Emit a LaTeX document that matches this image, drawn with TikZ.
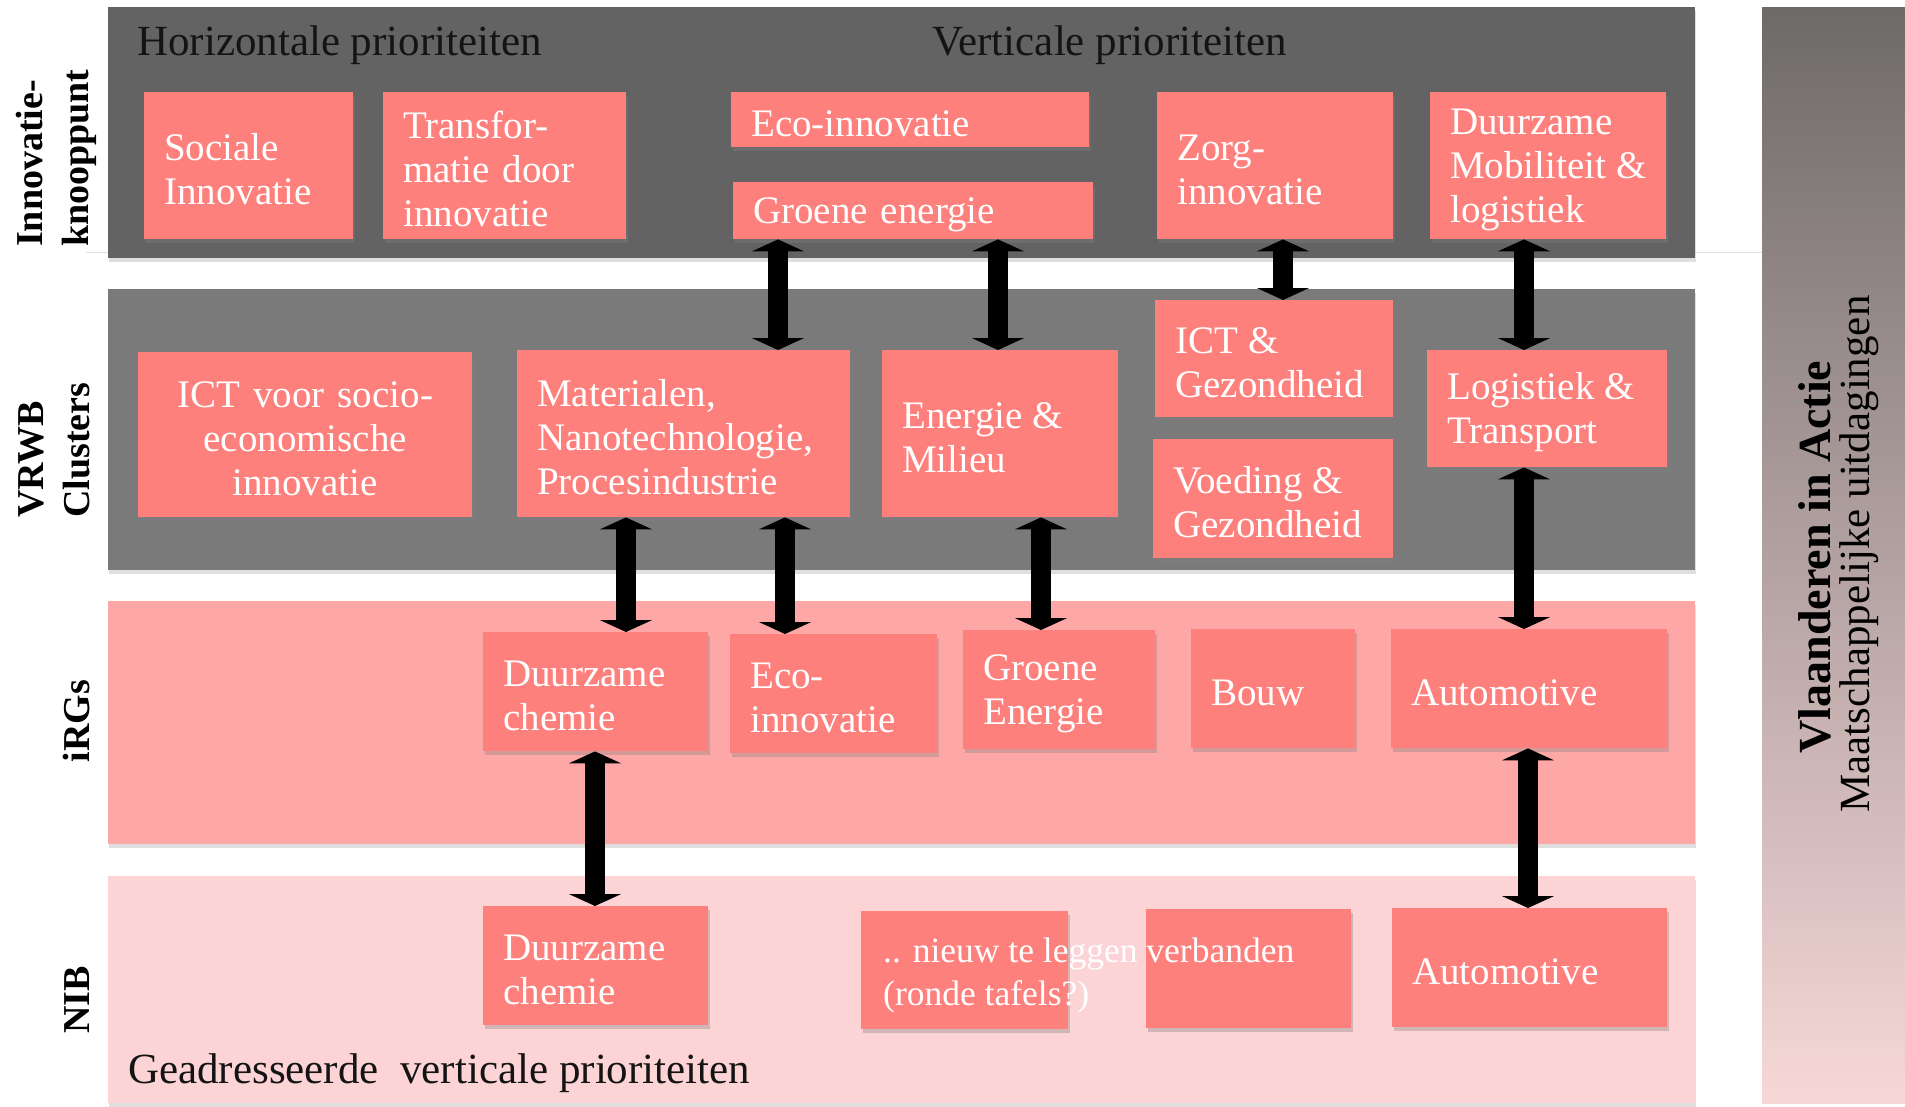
\documentclass[tikz,border=0pt]{standalone}
\usepackage{fontspec}
\setmainfont{Liberation Serif}
\usetikzlibrary{arrows.meta,shadows}

\definecolor{topgray}{RGB}{99,99,99}
\definecolor{clustgray}{RGB}{122,122,122}
\definecolor{irgpink}{RGB}{253,168,166}
\definecolor{nibpink}{RGB}{253,212,213}
\definecolor{boxred}{RGB}{253,128,125}
\definecolor{vlatop}{RGB}{110,106,106}
\definecolor{vlamid}{RGB}{182,158,158}
\definecolor{vlabot}{RGB}{247,216,216}

\newcommand\amp{~\kern-3pt\&}

\begin{document}
\begin{tikzpicture}[x=1pt,y=-1pt,
    band/.style={drop shadow={shadow xshift=1pt,shadow yshift=-4pt,opacity=.25}},
    prio box/.style 2 args={fill=boxred,text=white,anchor=north west,align=left,
       inner xsep=20pt,inner ysep=0pt,text width=#1,minimum height=#2,
       font=\fontsize{39}{44}\selectfont,execute at begin node={\rule{0pt}{34pt}\ignorespaces},
       drop shadow={shadow xshift=2pt,shadow yshift=-4pt,opacity=.35}},
    side label/.style={rotate=90,inner sep=0pt,font=\bfseries\fontsize{38}{44}\selectfont},
    head/.style={anchor=base west,inner sep=0pt,text=black!92,font=\fontsize{43}{48}\selectfont},
    link/.style={line width=20pt,{Triangle[width=52pt,length=12pt]}-{Triangle[width=52pt,length=12pt]}}]

  \useasboundingbox (0,0) rectangle (1905,1106);

  % lagen
  \draw[black!12,line width=1pt] (86,252) -- (1845,252);
  \fill[topgray,band] (108,7) rectangle (1695,258);
  \fill[clustgray,band] (108,289) rectangle (1695,570);
  \fill[irgpink,band] (108,601) rectangle (1695,844);
  \fill[nibpink,band] (108,876) rectangle (1695,1103);
  \fill[top color=vlatop,middle color=vlamid,bottom color=vlabot] (1762,7) rectangle (1905,1103);

  % labels links
  \node[side label,anchor=base west] (innoA) at (42,247) {Innovatie-};
  \node[side label,anchor=base west] (innoB) at (88,247) {knooppunt};
  \node[side label,anchor=base west] (vrwbA) at (43,518) {VRWB};
  \node[side label,anchor=base west] (vrwbB) at (89,518) {Clusters};
  \node[side label,anchor=base] (irgs) at (89,721) {iRGs};
  \node[side label,anchor=base] (nib) at (89,1000) {NIB};

  % rechts
  \node[rotate=90,anchor=base,inner sep=0pt,font=\bfseries\fontsize{46}{50}\selectfont] (vla) at (1830,557) {Vlaanderen in Actie};
  \node[rotate=90,anchor=base,inner sep=0pt,font=\fontsize{43}{48}\selectfont] (maat) at (1869,554) {Maatschappelijke uitdagingen};

  \node[head] (hor) at (137,55) {Horizontale prioriteiten};
  \node[head] (ver) at (932,55) {Verticale prioriteiten};
  \node[head] (geadr) at (128,1083) {Geadresseerde\ \ verticale prioriteiten};

  % innovatieknooppunt
  \node[prio box={169pt}{147pt}] (soc) at (144,92) {Sociale\\Innovatie};
  \node[prio box={203pt}{147pt}] (trans) at (383,92) {Transfor-\\matie~door\\innovatie};
  \node[prio box={318pt}{55pt}] (eco) at (731,92) {Eco-innovatie};
  \node[prio box={320pt}{57pt}] (groen) at (733,182) {Groene~energie};
  \node[prio box={196pt}{147pt}] (zorg) at (1157,92) {Zorg-\\innovatie};
  \node[prio box={196pt}{147pt}] (mob) at (1430,92) {Duurzame\\Mobiliteit\amp\\logistiek};

  % clusters
  \node[prio box={294pt}{165pt},align=center] (ictsoc) at (138,352) {ICT~voor~socio-\\economische\\innovatie};
  \node[prio box={293pt}{167pt}] (mat) at (517,350) {Materialen,\\Nanotechnologie,\\Procesindustrie};
  \node[prio box={196pt}{167pt}] (energ) at (882,350) {Energie\amp\\Milieu};
  \node[prio box={198pt}{117pt}] (ictgez) at (1155,300) {ICT\amp\\Gezondheid};
  \node[prio box={200pt}{119pt}] (voed) at (1153,439) {Voeding\amp\\Gezondheid};
  \node[prio box={200pt}{117pt}] (logi) at (1427,350) {Logistiek\amp\\Transport};

  % iRGs
  \node[prio box={185pt}{119pt}] (dchem) at (483,632) {Duurzame\\chemie};
  \node[prio box={167pt}{119pt}] (ecoirg) at (730,634) {Eco-\\innovatie};
  \node[prio box={152pt}{119pt}] (groenirg) at (963,630) {Groene\\Energie};
  \node[prio box={124pt}{119pt}] (bouw) at (1191,629) {Bouw};
  \node[prio box={236pt}{119pt}] (auto) at (1391,629) {Automotive};

  % NIB
  \node[prio box={185pt}{119pt}] (dchemnib) at (483,906) {Duurzame\\chemie};
  \node[prio box={167pt}{118pt}] (nieuw) at (861,911) {};
  \node[prio box={165pt}{119pt}] (leeg) at (1146,909) {};
  \node[prio box={235pt}{119pt}] (autonib) at (1392,908) {Automotive};
  \node[anchor=base west,inner sep=0pt,align=left,text=white,
        font=\fontsize{35.5}{43}\selectfont] (nieuwtxt) at (883,1005)
        {.. nieuw te leggen verbanden\\(ronde tafels?)};

  % verbindingen
  \coordinate (kA) at (778,0);
  \coordinate (kB) at (998,0);
  \coordinate (kC) at (1283,0);
  \coordinate (kD) at (1524,0);
  \coordinate (kE) at (626,0);
  \coordinate (kF) at (785,0);
  \coordinate (kG) at (1041,0);
  \coordinate (kH) at (595,0);
  \coordinate (kI) at (1528,0);

  \draw[link] (groen.south -| kA) -- (mat.north -| kA);
  \draw[link] (groen.south -| kB) -- (energ.north -| kB);
  \draw[link] (zorg.south -| kC) -- (ictgez.north -| kC);
  \draw[link] (mob.south -| kD) -- (logi.north -| kD);
  \draw[link] (mat.south -| kE) -- (dchem.north -| kE);
  \draw[link] (mat.south -| kF) -- (ecoirg.north -| kF);
  \draw[link] (energ.south -| kG) -- (groenirg.north -| kG);
  \draw[link] (logi.south -| kD) -- (auto.north -| kD);
  \draw[link] (dchem.south -| kH) -- (dchemnib.north -| kH);
  \draw[link] (auto.south -| kI) -- (autonib.north -| kI);
\end{tikzpicture}
\end{document}
